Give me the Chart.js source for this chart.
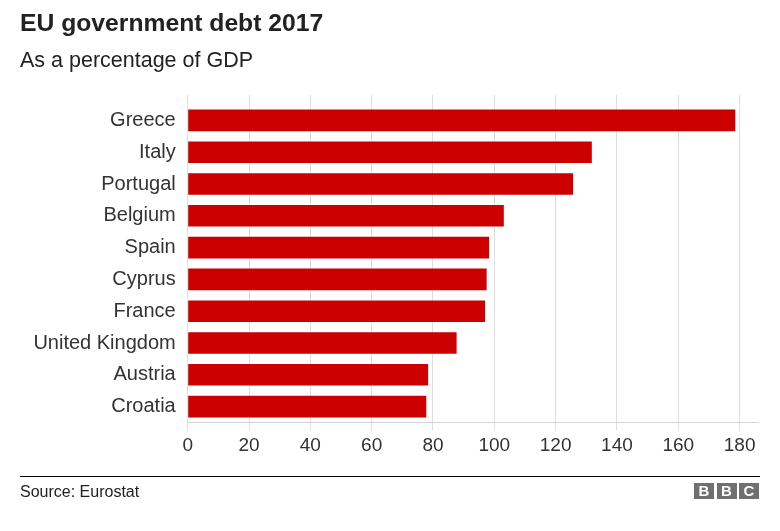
<!DOCTYPE html>
<html>
<head>
<meta charset="utf-8">
<script src="https://cdn.jsdelivr.net/npm/chart.js@4/dist/chart.umd.min.js"></script>
<style>
  html, body { margin: 0; padding: 0; background: #fff; }
  body { width: 780px; height: 531px; position: relative; overflow: hidden; font-family: "Liberation Sans", Arial, sans-serif; }
  #wrap { position: absolute; left: 0; top: 0; width: 780px; height: 531px; }
  .title { position: absolute; left: 20px; top: 9px; font-size: 24.7px; font-weight: bold; color: #222; white-space: nowrap; }
  .subtitle { position: absolute; left: 20px; top: 48px; font-size: 21.5px; color: #222; white-space: nowrap; }
  .rule { position: absolute; left: 20px; top: 476px; width: 740px; height: 1px; background: #000; }
  .source { position: absolute; left: 20px; top: 483px; font-size: 16px; color: #222; white-space: nowrap; }
  .bbc { position: absolute; left: 694px; top: 483px; height: 16px; display: flex; gap: 2.5px; }
  .bbc span { display: block; width: 20px; height: 16px; background: #707070; color: #fff; font-weight: bold; font-size: 15px; line-height: 16px; text-align: center; }
</style>
</head>
<body>
<div id="wrap"><canvas id="c" width="780" height="531"></canvas></div>
<div class="title">EU government debt 2017</div>
<div class="subtitle">As a percentage of GDP</div>
<div class="rule"></div>
<div class="source">Source: Eurostat</div>
<div class="bbc"><span>B</span><span>B</span><span>C</span></div>
<script>
const categories = ["Greece", "Italy", "Portugal", "Belgium", "Spain", "Cyprus", "France", "United Kingdom", "Austria", "Croatia"];
const debtPct = [178.6, 131.8, 125.7, 103.1, 98.3, 97.5, 97.0, 87.7, 78.4, 77.8];
const xTickValues = [0, 20, 40, 60, 80, 100, 120, 140, 160, 180];

const gridColor = "#dedede";
const FONT = '"Liberation Sans", Arial, sans-serif';

const gridExtend = {
  id: "gridExtend",
  beforeDatasetsDraw(chart) {
    const ctx = chart.ctx;
    const xs = chart.scales.x;
    const top = chart.chartArea.top;
    ctx.save();
    ctx.strokeStyle = gridColor;
    ctx.lineWidth = 1;
    xs.ticks.forEach((t) => {
      const px = Math.round(xs.getPixelForValue(t.value) - 0.5) + 0.5;
      ctx.beginPath();
      ctx.moveTo(px, top - 9.5);
      ctx.lineTo(px, top);
      ctx.stroke();
    });
    ctx.restore();
  }
};

new Chart(document.getElementById("c"), {
  type: "bar",
  data: {
    labels: categories,
    datasets: [{
      data: debtPct,
      backgroundColor: "#cc0000",
      borderWidth: 0,
      barPercentage: 0.68,
      categoryPercentage: 1.0
    }]
  },
  plugins: [gridExtend],
  options: {
    indexAxis: "y",
    responsive: false,
    animation: false,
    devicePixelRatio: 1,
    layout: { padding: { top: 104.5, right: 22, left: 0, bottom: 0 } },
    plugins: { legend: { display: false }, tooltip: { enabled: false }, title: { display: false } },
    scales: {
      x: {
        min: 0,
        max: 186,
        afterBuildTicks(scale) {
          scale.ticks = xTickValues.map(v => ({ value: v }));
        },
        afterFit(scale) { scale.height = 531 - 422.5; },
        grid: { color: gridColor, lineWidth: 1, drawTicks: true, tickLength: 8, tickColor: gridColor },
        border: { display: true, color: "#d4d4d4", width: 1 },
        ticks: {
          font: { family: FONT, size: 19 },
          color: "#333",
          padding: 4,
          maxRotation: 0,
          autoSkip: false
        }
      },
      y: {
        afterFit(scale) { scale.width = 187.7; },
        grid: { display: false, drawTicks: false },
        border: { display: false },
        ticks: {
          font: { family: FONT, size: 20 },
          color: "#333",
          padding: 12,
          autoSkip: false
        }
      }
    }
  }
});
</script>
</body>
</html>
